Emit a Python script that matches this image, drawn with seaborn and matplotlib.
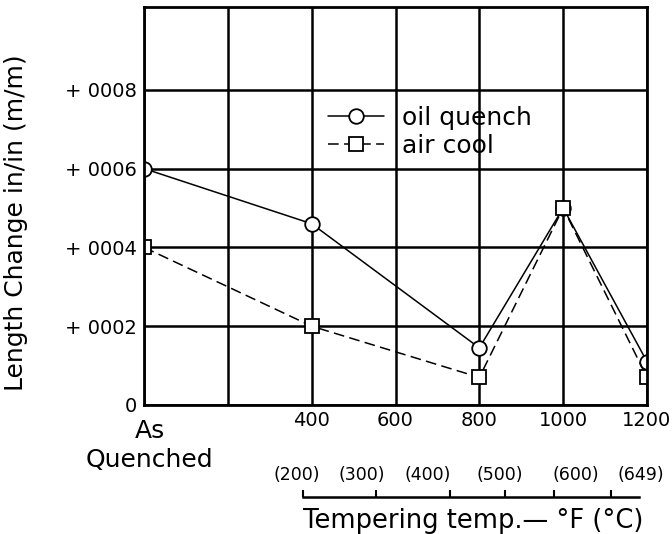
import matplotlib
matplotlib.use("Agg")
import matplotlib.pyplot as plt
import seaborn as sns
import pandas as pd
from matplotlib.legend_handler import HandlerLine2D

# data (°F, in/in)
temps = [0, 400, 800, 1000, 1200]
oil_quench = [0.0006, 0.00046, 0.000145, 0.0005, 0.00011]
air_cool = [0.0004, 0.0002, 0.00007, 0.0005, 0.00007]
series_names = ["oil quench", "air cool"]

x_grid = [0, 200, 400, 600, 800, 1000, 1200]
x_labels = ["", "", "400", "600", "800", "1000", "1200"]
y_grid = [0, 0.0002, 0.0004, 0.0006, 0.0008]
y_labels = ["0", "+ 0002", "+ 0004", "+ 0006", "+ 0008"]

# celsius scale as drawn under the axis (positions in °F)
c_ticks_f = [380, 554, 729, 862, 977, 1115]
c_label_pos_f = [365, 520, 676, 849, 1030, 1186]
c_labels = ["(200)", "(300)", "(400)", "(500)", "(600)", "(649)"]
c_line_span = [380, 1180]

df = pd.DataFrame({
    "temp": temps * 2,
    "change": oil_quench + air_cool,
    "cooling": [series_names[0]] * len(temps) + [series_names[1]] * len(temps),
})

sns.set_theme(style="white")
plt.rcParams["font.family"] = ["DejaVu Sans"]
plt.rcParams["text.color"] = "black"

fig = plt.figure(figsize=(6.72, 5.34), dpi=100)
ax = fig.add_axes([144 / 672, 129 / 534, 503 / 672, 398 / 534])

sns.lineplot(data=df, x="temp", y="change", style="cooling",
             style_order=series_names,
             markers={"oil quench": "o", "air cool": "s"},
             dashes={"oil quench": "", "air cool": (7, 3.5)},
             color="black", linewidth=1.1, markersize=10.5,
             markerfacecolor="white", markeredgecolor="black",
             markeredgewidth=1.3, legend=False, ax=ax)

ax.set_xlim(0, 1200)
ax.set_ylim(0, 0.00101)
ax.set_xticks(x_grid, labels=x_labels)
ax.set_yticks(y_grid, labels=y_labels)
ax.tick_params(axis="both", length=0, labelsize=14, colors="black")
ax.tick_params(axis="x", pad=4)
ax.tick_params(axis="y", pad=5)
ax.grid(True, color="black", linewidth=1.8)
ax.set_axisbelow(True)
for s in ax.spines.values():
    s.set_color("black")
    s.set_linewidth(2)

ax.set_xlabel("")
ax.set_ylabel("Length Change in/in (m/m)", fontsize=18, color="black")
ax.yaxis.set_label_coords(-0.2306, 0.457)

ax.text(14, -0.035, "As\nQuenched", transform=ax.get_xaxis_transform(),
        ha="center", va="top", fontsize=18, linespacing=1.25, color="black")


class EndMarker(HandlerLine2D):
    def get_xdata(self, legend, xdescent, ydescent, width, height, fontsize):
        return [-xdescent, -xdescent + width], [-xdescent + width]


handles = ax.get_lines()[:2]
ax.legend(handles, series_names, loc="upper left", bbox_to_anchor=(0.3665, 0.752),
          frameon=False, fontsize=18, borderpad=0, borderaxespad=0,
          handlelength=2.24, handletextpad=0.72, labelspacing=0.17,
          labelcolor="black",
          handler_map={h: EndMarker() for h in handles})

# secondary celsius scale
ax2 = fig.add_axes([144 / 672, 37 / 534, 503 / 672, 7 / 534])
ax2.set_xlim(ax.get_xlim())
ax2.set_ylim(0, 1)
ax2.patch.set_alpha(0)
for side in ["top", "left", "right"]:
    ax2.spines[side].set_visible(False)
ax2.spines["bottom"].set_color("black")
ax2.spines["bottom"].set_linewidth(1.8)
ax2.spines["bottom"].set_bounds(*c_line_span)
ax2.set_yticks([])
ax2.set_xticks(c_label_pos_f, labels=c_labels)
ax2.set_xticks(c_ticks_f, minor=True)
ax2.tick_params(axis="x", which="major", bottom=False, top=True, length=0,
                labelbottom=False, labeltop=True, labelsize=12.5, pad=4.5,
                labelcolor="black")
ax2.tick_params(axis="x", which="minor", bottom=True, direction="in",
                length=5, width=1.5, color="black")

fig.text(473 / 672, 6 / 534, "Tempering temp.\u2014 °F (°C)", ha="center",
         va="baseline", fontsize=18.5, color="black")

fig.savefig("out.png", dpi=100)
